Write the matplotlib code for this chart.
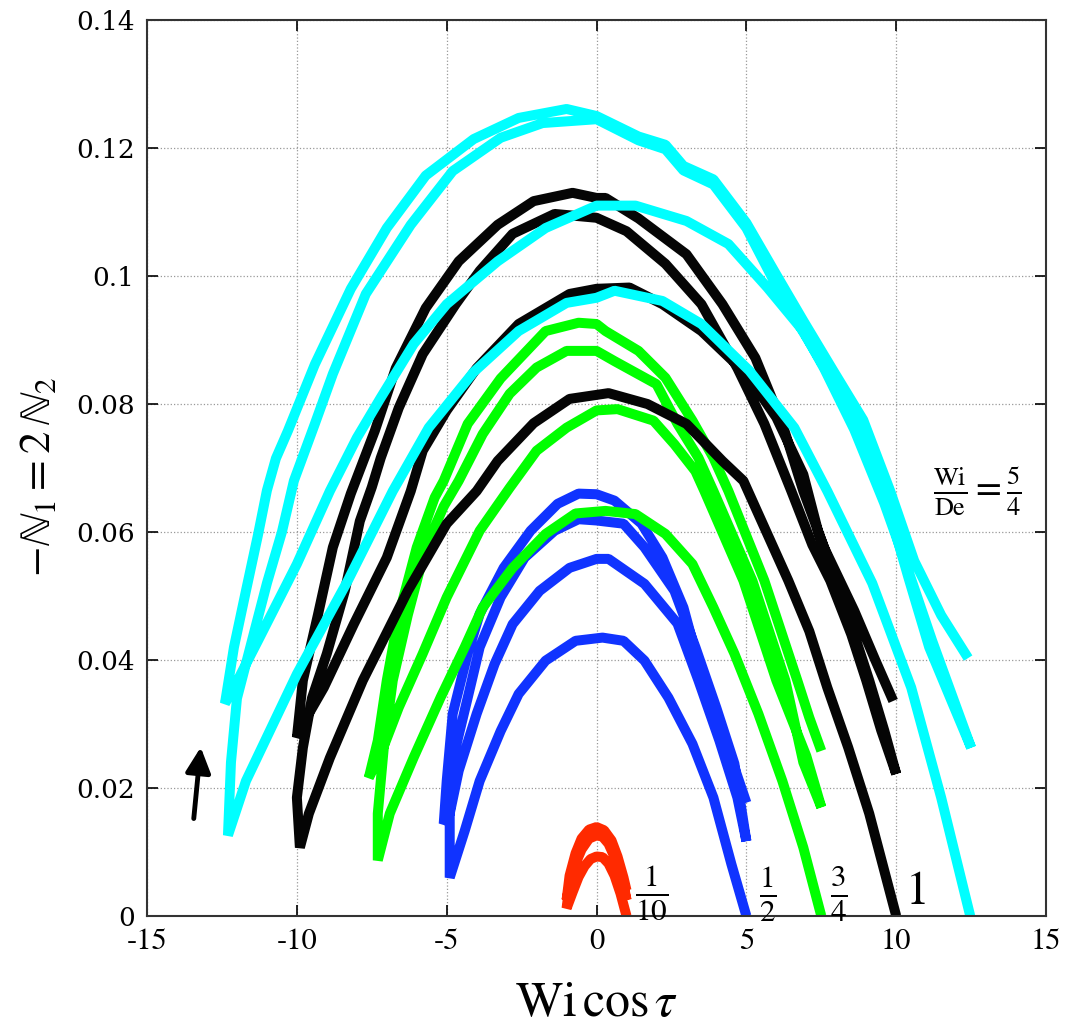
import numpy as np
import matplotlib.pyplot as plt

plt.rcParams["font.family"] = ["STIXGeneral", "DejaVu Serif"]
plt.rcParams["mathtext.fontset"] = "stix"

# each family: four half-cycles (arches) drawn as one continuous path
# Wi/De = 1/10
red_x = [[1.0, 0.8, 0.6, 0.4, 0.2, 0.0, -0.2, -0.4, -0.6, -0.8, -1.0],
         [-0.9, -0.7, -0.5, -0.25, 0.0, 0.25, 0.5, 0.7, 0.9, 1.0],
         [0.8, 0.6, 0.4, 0.2, 0.0, -0.25, -0.5, -0.7, -0.9, -1.0],
         [-0.9, -0.7, -0.5, -0.25, 0.0, 0.25, 0.5, 0.7, 0.9, 1.0]]
red_y = [[0.0, 0.0035, 0.0063, 0.0082, 0.0092, 0.0093, 0.0089, 0.0078, 0.0061, 0.0037, 0.0012],
         [0.005, 0.0088, 0.0113, 0.0128, 0.0131, 0.0126, 0.011, 0.0085, 0.005, 0.0025],
         [0.0062, 0.0092, 0.0113, 0.0124, 0.0126, 0.0121, 0.0104, 0.0082, 0.0048, 0.0025],
         [0.0063, 0.0098, 0.0121, 0.0135, 0.0139, 0.0134, 0.0118, 0.0093, 0.006, 0.004]]

# Wi/De = 1/2
blue_x = [[5.0, 4.5, 3.9, 3.2, 2.4, 1.6, 0.9, 0.2, -0.7, -1.7, -2.6, -3.2, -3.9, -4.4, -4.9],
          [-4.9, -4.7, -4.3, -3.9, -3.2, -2.4, -1.4, -0.6, 0.0, 0.9, 1.6, 2.6, 3.3, 4.0, 4.6, 5.0],
          [4.7, 4.1, 3.4, 2.7, 1.6, 0.4, 0.0, -0.9, -1.9, -2.8, -3.4, -4.0, -4.6, -4.9, -5.1],
          [-5.0, -4.8, -4.3, -3.9, -3.1, -2.2, -1.3, -0.6, 0.0, 0.6, 1.5, 2.2, 2.9, 3.5, 4.3, 5.0]]
blue_y = [[0.0, 0.0081, 0.0185, 0.0269, 0.0341, 0.0399, 0.043, 0.0435, 0.043, 0.0399, 0.0347, 0.0289, 0.0211, 0.0133, 0.006],
          [0.016, 0.0263, 0.0341, 0.042, 0.0498, 0.056, 0.0602, 0.062, 0.0618, 0.0613, 0.0576, 0.0508, 0.042, 0.0325, 0.0238, 0.0117],
          [0.0185, 0.0274, 0.0368, 0.0457, 0.0519, 0.0558, 0.0558, 0.0544, 0.0508, 0.0456, 0.0394, 0.0316, 0.0227, 0.016, 0.0144],
          [0.0211, 0.0316, 0.041, 0.0472, 0.0544, 0.0602, 0.0644, 0.066, 0.0659, 0.0649, 0.0613, 0.056, 0.0482, 0.0378, 0.0274, 0.0177]]

# Wi/De = 3/4
green_x = [[7.5, 6.9, 6.2, 5.4, 4.6, 3.9, 3.2, 2.3, 1.3, 0.3, -0.7, -1.7, -2.8, -3.8, -4.4, -5.2, -6.1, -6.9, -7.3],
           [-7.3, -7.1, -6.8, -6.3, -5.7, -5.1, -4.6, -3.8, -2.9, -2.0, -1.0, 0.0, 0.6, 2.0, 2.7, 3.4, 3.9, 5.2, 6.3, 6.9, 7.5],
           [7.0, 6.0, 4.9, 3.6, 3.3, 2.6, 1.9, 0.7, 0.0, -1.0, -2.0, -2.9, -3.9, -5.0, -5.8, -6.6, -7.2, -7.6],
           [-7.3, -7.0, -6.6, -6.0, -5.4, -5.1, -4.3, -3.2, -1.7, -0.6, 0.0, 0.3, 1.4, 2.3, 3.2, 3.9, 4.4, 5.6, 6.7, 7.1, 7.5]]
green_y = [[0.0, 0.0107, 0.0211, 0.0316, 0.041, 0.0482, 0.055, 0.0597, 0.0628, 0.0633, 0.0629, 0.0597, 0.0544, 0.0482, 0.042, 0.0342, 0.0248, 0.016, 0.0087],
           [0.016, 0.0263, 0.0368, 0.047, 0.0576, 0.064, 0.068, 0.0753, 0.0816, 0.0857, 0.0883, 0.0883, 0.0867, 0.0831, 0.0769, 0.0716, 0.0664, 0.0524, 0.0368, 0.024, 0.017],
           [0.025, 0.0368, 0.0524, 0.0664, 0.0695, 0.0737, 0.0774, 0.0792, 0.079, 0.0763, 0.0727, 0.0669, 0.0602, 0.0498, 0.041, 0.0326, 0.0253, 0.0216],
           [0.0274, 0.0368, 0.047, 0.0576, 0.0654, 0.068, 0.0769, 0.084, 0.0914, 0.0927, 0.0925, 0.0914, 0.0883, 0.0841, 0.0774, 0.0716, 0.0664, 0.0524, 0.0368, 0.031, 0.0258]]

# Wi/De = 1
black_x = [[10.0, 9.1, 8.4, 7.7, 7.1, 6.4, 5.4, 4.9, 4.2, 3.0, 1.7, 0.4, -0.9, -2.1, -3.3, -4.0, -5.0, -6.3, -7.8, -8.9, -9.6, -9.9],
           [-10.0, -9.8, -9.5, -9.0, -8.4, -7.9, -7.5, -7.2, -6.6, -5.8, -4.7, -3.9, -2.8, -1.4, 0.0, 1.0, 2.3, 3.5, 4.7, 5.6, 6.5, 7.2, 7.8, 8.5, 9.0, 9.5, 10.0],
           [9.6, 9.1, 8.6, 8.0, 7.4, 6.9, 6.0, 5.0, 3.5, 2.2, 1.1, 0.0, -0.9, -2.6, -4.0, -5.0, -5.8, -6.2, -7.0, -8.1, -9.1, -9.8, -10.0],
           [-9.8, -9.3, -8.8, -8.2, -7.4, -6.7, -5.7, -4.6, -3.3, -2.1, -0.8, 0.0, 0.3, 1.4, 3.0, 4.2, 5.3, 6.2, 6.9, 7.6, 8.6, 9.3, 9.9]]
black_y = [[0.0, 0.016, 0.0263, 0.0357, 0.0445, 0.0524, 0.0628, 0.068, 0.0711, 0.0769, 0.080, 0.0817, 0.0808, 0.077, 0.0711, 0.0664, 0.0613, 0.0508, 0.0368, 0.0247, 0.016, 0.0107],
           [0.0185, 0.0263, 0.034, 0.041, 0.0508, 0.0617, 0.067, 0.0716, 0.0794, 0.0878, 0.0956, 0.1008, 0.1066, 0.1097, 0.1091, 0.107, 0.1019, 0.0956, 0.0856, 0.0769, 0.0664, 0.058, 0.0524, 0.044, 0.0368, 0.029, 0.0222],
           [0.029, 0.0368, 0.044, 0.0524, 0.060, 0.069, 0.0779, 0.0847, 0.0914, 0.0956, 0.0982, 0.098, 0.0972, 0.0925, 0.0856, 0.079, 0.0727, 0.0664, 0.056, 0.0456, 0.0357, 0.030, 0.0279],
           [0.0368, 0.047, 0.0576, 0.066, 0.0758, 0.0856, 0.095, 0.1023, 0.108, 0.1117, 0.113, 0.1122, 0.1122, 0.109, 0.1034, 0.0956, 0.0872, 0.0769, 0.0664, 0.0575, 0.0477, 0.040, 0.0336]]

# Wi/De = 5/4
cyan_x = [[12.47, 11.5, 10.5, 9.2, 7.7, 6.6, 5.1, 3.5, 2.2, 0.6, 0.0, -1.0, -2.6, -4.1, -5.6, -6.8, -8.3, -10.0, -11.7, -12.3],
          [-12.2, -12.0, -11.5, -11.0, -10.5, -10.1, -9.4, -8.8, -7.7, -6.2, -4.8, -3.2, -1.8, 0.0, 1.4, 2.3, 2.9, 3.9, 5.0, 5.9, 6.8, 7.8, 8.8, 9.6, 10.4, 11.1, 11.9, 12.5],
          [11.9, 11.2, 10.4, 9.6, 8.6, 7.6, 6.9, 5.7, 4.4, 3.0, 1.3, 0.0, -1.7, -3.3, -5.0, -6.1, -7.2, -8.0, -8.9, -10.0, -11.3, -12.1, -12.4],
          [-12.1, -11.7, -11.3, -11.0, -10.7, -10.3, -9.4, -8.2, -7.0, -5.7, -4.1, -2.6, -1.0, 0.0, 1.4, 2.3, 2.9, 3.9, 5.0, 6.0, 6.9, 7.9, 8.9, 9.8, 10.6, 11.5, 12.4]]
cyan_y = [[0.0, 0.0185, 0.0357, 0.052, 0.0664, 0.0763, 0.0852, 0.0925, 0.0961, 0.0977, 0.0966, 0.0958, 0.0914, 0.085, 0.0763, 0.0664, 0.0524, 0.0378, 0.0211, 0.0126],
          [0.024, 0.034, 0.043, 0.052, 0.060, 0.068, 0.0769, 0.0847, 0.0972, 0.108, 0.1164, 0.1216, 0.1239, 0.1245, 0.1212, 0.1198, 0.1165, 0.1143, 0.1075, 0.0994, 0.092, 0.0842, 0.0762, 0.066, 0.053, 0.042, 0.033, 0.0263],
          [0.034, 0.043, 0.054, 0.0645, 0.076, 0.0855, 0.0914, 0.0982, 0.105, 0.1086, 0.111, 0.111, 0.1075, 0.1023, 0.0956, 0.0894, 0.081, 0.0747, 0.0664, 0.055, 0.043, 0.0357, 0.0332],
          [0.042, 0.0508, 0.0595, 0.0665, 0.0715, 0.0758, 0.0862, 0.098, 0.1075, 0.1157, 0.1214, 0.1247, 0.1261, 0.125, 0.1218, 0.1205, 0.1172, 0.1151, 0.1083, 0.1002, 0.093, 0.0852, 0.0775, 0.0664, 0.0555, 0.047, 0.0403]]

families = [
    (red_x, red_y, "#ff2a00"),
    (blue_x, blue_y, "#1033ff"),
    (green_x, green_y, "#00ff00"),
    (black_x, black_y, "#050505"),
    (cyan_x, cyan_y, "#00ffff"),
]

fig = plt.figure(figsize=(10.71, 10.32), dpi=100)
ax = fig.add_axes([0.1373, 0.1124, 0.8394, 0.8682])

for xs, ys, c in families:
    x = np.concatenate(xs)
    y = np.concatenate(ys)
    ax.plot(x, y, color=c, lw=7.2, solid_joinstyle="bevel", solid_capstyle="butt")

ax.set_xlim(-15, 15)
ax.set_ylim(0, 0.14)
ax.set_xticks([-15, -10, -5, 0, 5, 10, 15])
ax.set_xticklabels(["-15", "-10", "-5", "0", "5", "10", "15"])
ax.set_yticks([0, 0.02, 0.04, 0.06, 0.08, 0.1, 0.12, 0.14])
ax.set_yticklabels(["0", "0.02", "0.04", "0.06", "0.08", "0.1", "0.12", "0.14"],
                   family="DejaVu Serif")
ax.grid(True, color="#999999", linestyle=":", lw=0.9)
ax.tick_params(direction="in", top=True, right=True, length=8, width=1.2)
ax.tick_params(axis="x", labelsize=22, pad=9)
ax.tick_params(axis="y", labelsize=19, pad=9)
for s in ax.spines.values():
    s.set_linewidth(1.5)
    s.set_color("#333333")

ax.set_xlabel(r"$\mathrm{Wi}\,\cos\tau$", fontsize=36, labelpad=18)
ax.set_ylabel(r"$-\mathbb{N}_1 = 2\,\mathbb{N}_2$", fontsize=32)
ax.yaxis.set_label_coords(-0.098, 0.49)

ax.text(1.85, 0.0035, r"$\frac{1}{10}$", fontsize=32, ha="center", va="center")
ax.text(5.7, 0.0035, r"$\frac{1}{2}$", fontsize=32, ha="center", va="center")
ax.text(8.1, 0.0035, r"$\frac{3}{4}$", fontsize=32, ha="center", va="center")
ax.text(10.7, 0.0036, "1", fontsize=34, ha="center", va="center")
ax.text(12.7, 0.0665, r"$\frac{\mathrm{Wi}}{\mathrm{De}} = \frac{5}{4}$",
        fontsize=27, ha="center", va="center")

ax.annotate("", xy=(-13.2, 0.0268), xytext=(-13.45, 0.0148),
            arrowprops=dict(arrowstyle="-|>", color="k", lw=3.5, mutation_scale=38))

fig.savefig("out.png", dpi=100)
